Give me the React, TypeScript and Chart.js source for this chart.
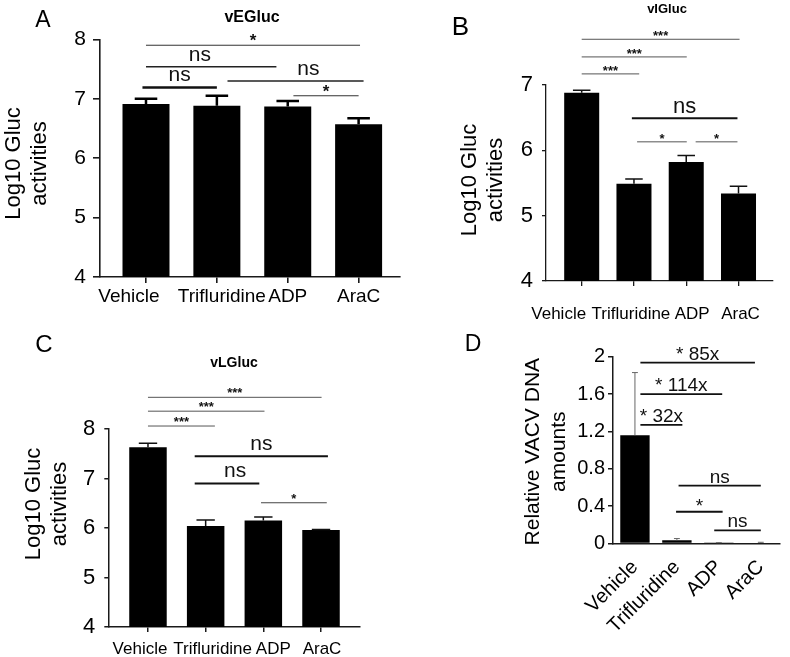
import React, { useEffect, useRef } from 'react';
import { Chart, registerables } from 'chart.js';

Chart.register(...registerables);

const W = 790;
const H = 657;
const FONT = "'Liberation Sans', Arial, Helvetica, sans-serif";
const Y_AXIS_BOX = 70; // width reserved for the y-axis ticks/labels
const X_AXIS_BOX_ROTATED = 100; // height reserved for rotated category labels

const CATEGORIES = ['Vehicle', 'Trifluridine', 'ADP', 'AraC'];

// Panel A – vEGluc
const A_MEANS = [6.91, 6.88, 6.87, 6.57];
const A_ERRORS = [0.09, 0.17, 0.09, 0.1];
const A_Y_TICKS = [4, 5, 6, 7, 8];
const A_SIGNIFICANCE = [
  { label: '*', from: 0, to: 3.02, level: 7.9 },
  { label: 'ns', from: 0, to: 1.84, level: 7.54, at: 0.76 },
  { label: 'ns', from: 1.15, to: 3.07, level: 7.3, at: 2.29 },
  { label: 'ns', from: -0.05, to: 1.0, level: 7.19 },
  { label: '*', from: 2.08, to: 3.0, level: 7.05 },
];

// Panel B – vIGluc
const B_MEANS = [6.88, 5.49, 5.82, 5.34];
const B_ERRORS = [0.04, 0.07, 0.1, 0.11];
const B_Y_TICKS = [4, 5, 6, 7];
const B_SIGNIFICANCE = [
  { label: '***', from: 0, to: 3.02, level: 7.7 },
  { label: '***', from: 0, to: 2.01, level: 7.43 },
  { label: '***', from: 0, to: 1.1, level: 7.17 },
  { label: 'ns', from: 0.96, to: 2.98, level: 6.49 },
  { label: '*', from: 1.06, to: 2.01, level: 6.13 },
  { label: '*', from: 2.18, to: 2.98, level: 6.13 },
];

// Panel C – vLGluc
const C_MEANS = [7.63, 6.04, 6.15, 5.96];
const C_ERRORS = [0.08, 0.12, 0.07, 0.01];
const C_Y_TICKS = [4, 5, 6, 7, 8];
const C_SIGNIFICANCE = [
  { label: '***', from: 0, to: 3.01, level: 8.64 },
  { label: '***', from: 0, to: 2.02, level: 8.36 },
  { label: '***', from: 0, to: 1.16, level: 8.06 },
  { label: 'ns', from: 0.81, to: 3.12, level: 7.45 },
  { label: 'ns', from: 0.81, to: 1.93, level: 6.9, at: 1.51 },
  { label: '*', from: 1.96, to: 3.1, level: 6.51 },
];

// Panel D – relative VACV DNA amounts
const D_MEANS = [1.16, 0.035, 0.006, 0.009];
const D_ERRORS = [0.67, 0.018, 0.003, 0.004];
const D_Y_TICKS = [0, 0.4, 0.8, 1.2, 1.6, 2];
const D_SIGNIFICANCE = [
  { label: '* 85x', from: 0.13, to: 2.86, level: 1.936 },
  { label: '* 114x', from: 0.13, to: 2.08, level: 1.6 },
  { label: '* 32x', from: 0.13, to: 1.13, level: 1.27 },
  { label: 'ns', from: 1.04, to: 3.0, level: 0.62 },
  { label: '*', from: 0.98, to: 2.09, level: 0.34 },
  { label: 'ns', from: 1.89, to: 3.0, level: 0.14 },
];

type Sig = { label: string; from: number; to: number; level: number; at?: number };

interface PanelCfg {
  id: string;
  means: number[];
  errors: number[];
  yTicks: number[];
  sig: Sig[];
  letter: string;
  letterSize: number;
  letterPos: [number, number];
  title?: string;
  titleSize?: number;
  titlePos?: [number, number];
  yTitle: string[];
  yTitleSize: number;
  yTitlePos: [number, number];
  yTitleLine: number;
  area: { left: number; top: number; right: number; bottom: number };
  xRange: [number, number];
  yRange: [number, number];
  barPct: number;
  tickFont: number;
  yTickLen: number;
  yTickPad: number;
  xTickLen: number;
  rotated: boolean;
  xLabelFont: number;
  xLabelBaseline?: number;
  xLabelShift?: number[];
  xTickPad?: number;
  errColor: string;
  errWidth: number;
  capRatio: number;
  bracketWidths: number[];
  bracketColors: string[];
  textSize: number;
  starSize: number;
  starBold: boolean;
  textGap: number;
  starGap: number;
  axisWidth: number;
}

const PANELS: PanelCfg[] = [
  {
    id: 'A',
    means: A_MEANS,
    errors: A_ERRORS,
    yTicks: A_Y_TICKS,
    sig: A_SIGNIFICANCE,
    letter: 'A',
    letterSize: 23,
    letterPos: [43, 21],
    title: 'vEGluc',
    titleSize: 16,
    titlePos: [252, 18],
    yTitle: ['Log10 Gluc', 'activities'],
    yTitleSize: 22,
    yTitlePos: [20, 163.5],
    yTitleLine: 26,
    area: { left: 100, top: 39.3, right: 400, bottom: 277 },
    xRange: [-0.649, 3.584],
    yRange: [4, 8],
    barPct: 0.663,
    tickFont: 21,
    yTickLen: 7,
    yTickPad: 7,
    xTickLen: 6,
    rotated: false,
    xLabelFont: 19,
    xLabelBaseline: 302,
    xLabelShift: [-17, 5, 0, 0],
    errColor: '#000',
    errWidth: 2.5,
    capRatio: 0.48,
    bracketWidths: [1, 1.5, 1.5, 2.5, 1],
    bracketColors: ['#333', '#222', '#222', '#111', '#333'],
    textSize: 21,
    starSize: 17,
    starBold: true,
    textGap: 6,
    starGap: -1,
    axisWidth: 1.6,
  },
  {
    id: 'B',
    means: B_MEANS,
    errors: B_ERRORS,
    yTicks: B_Y_TICKS,
    sig: B_SIGNIFICANCE,
    letter: 'B',
    letterSize: 26,
    letterPos: [460.5, 27.5],
    title: 'vIGluc',
    titleSize: 13,
    titlePos: [667, 9],
    yTitle: ['Log10 Gluc', 'activities'],
    yTitleSize: 22,
    yTitlePos: [476, 180],
    yTitleLine: 26,
    area: { left: 546, top: 85, right: 773, bottom: 281 },
    xRange: [-0.683, 3.66],
    yRange: [4, 7],
    barPct: 0.67,
    tickFont: 22,
    yTickLen: 4,
    yTickPad: 9,
    xTickLen: 5,
    rotated: false,
    xLabelFont: 17,
    xLabelBaseline: 319,
    xLabelShift: [-23, -3, 6, 2],
    errColor: '#111',
    errWidth: 1.5,
    capRatio: 0.5,
    bracketWidths: [1, 1, 1, 2, 1, 1],
    bracketColors: ['#555', '#555', '#555', '#111', '#555', '#555'],
    textSize: 22,
    starSize: 13,
    starBold: true,
    textGap: 5,
    starGap: -1,
    axisWidth: 1.3,
  },
  {
    id: 'C',
    means: C_MEANS,
    errors: C_ERRORS,
    yTicks: C_Y_TICKS,
    sig: C_SIGNIFICANCE,
    letter: 'C',
    letterSize: 24,
    letterPos: [44, 345],
    title: 'vLGluc',
    titleSize: 14,
    titlePos: [234, 363],
    yTitle: ['Log10 Gluc', 'activities'],
    yTitleSize: 22,
    yTitlePos: [40, 504],
    yTitleLine: 26,
    area: { left: 108.3, top: 429, right: 360, bottom: 627 },
    xRange: [-0.688, 3.676],
    yRange: [4, 8],
    barPct: 0.65,
    tickFont: 22,
    yTickLen: 4,
    yTickPad: 9,
    xTickLen: 5,
    rotated: false,
    xLabelFont: 17,
    xLabelBaseline: 654,
    xLabelShift: [-8, 7, 10, 1],
    errColor: '#111',
    errWidth: 1.5,
    capRatio: 0.49,
    bracketWidths: [1, 1, 1, 2, 2, 1],
    bracketColors: ['#555', '#555', '#555', '#111', '#111', '#444'],
    textSize: 21,
    starSize: 13,
    starBold: true,
    textGap: 6,
    starGap: 0,
    axisWidth: 1.5,
  },
  {
    id: 'D',
    means: D_MEANS,
    errors: D_ERRORS,
    yTicks: D_Y_TICKS,
    sig: D_SIGNIFICANCE,
    letter: 'D',
    letterSize: 23,
    letterPos: [473, 345],
    yTitle: ['Relative VACV DNA', 'amounts'],
    yTitleSize: 21,
    yTitlePos: [539, 451.7],
    yTitleLine: 26,
    area: { left: 613, top: 356.7, right: 788, bottom: 543.5 },
    xRange: [-0.523, 3.4545],
    yRange: [0, 2],
    barPct: 0.7,
    tickFont: 20,
    yTickLen: 5,
    yTickPad: 3,
    xTickLen: 0,
    rotated: true,
    xLabelFont: 20,
    xTickPad: 12,
    errColor: '#666',
    errWidth: 1,
    capRatio: 0.2,
    bracketWidths: [1.8, 1.8, 1.8, 1.8, 1.8, 1.8],
    bracketColors: ['#111', '#111', '#111', '#111', '#111', '#111'],
    textSize: 19,
    starSize: 19,
    starBold: false,
    textGap: 3,
    starGap: 0,
    axisWidth: 1.5,
  },
];

const AXIS_COLOR = '#1a1a1a';

function makeDecor(p: PanelCfg) {
  return {
    id: 'decor' + p.id,
    afterDraw(chart: any) {
      const ctx: CanvasRenderingContext2D = chart.ctx;
      const xs = chart.scales.x;
      const ys = chart.scales.y;
      const meta = chart.getDatasetMeta(0);
      ctx.save();

      // error bars
      p.means.forEach((m, i) => {
        const x = xs.getPixelForValue(i);
        const yTop = ys.getPixelForValue(m);
        const yErr = ys.getPixelForValue(m + p.errors[i]);
        const bw = meta.data[i] ? meta.data[i].width : 30;
        const cap = (bw * p.capRatio) / 2;
        ctx.strokeStyle = p.errColor;
        ctx.lineWidth = p.errWidth;
        ctx.beginPath();
        ctx.moveTo(x, yTop);
        ctx.lineTo(x, yErr);
        ctx.moveTo(x - cap, yErr);
        ctx.lineTo(x + cap, yErr);
        ctx.stroke();
      });

      // significance brackets
      p.sig.forEach((s, k) => {
        const x1 = xs.getPixelForValue(s.from);
        const x2 = xs.getPixelForValue(s.to);
        const y = ys.getPixelForValue(s.level);
        ctx.strokeStyle = p.bracketColors[k];
        ctx.lineWidth = p.bracketWidths[k];
        ctx.beginPath();
        ctx.moveTo(x1, y);
        ctx.lineTo(x2, y);
        ctx.stroke();
        const starOnly = /^\*+$/.test(s.label);
        ctx.font = starOnly
          ? `${p.starBold ? 'bold ' : ''}${p.starSize}px ${FONT}`
          : `${p.textSize}px ${FONT}`;
        ctx.fillStyle = '#111';
        ctx.textAlign = 'center';
        ctx.textBaseline = 'alphabetic';
        const tx = s.at !== undefined ? xs.getPixelForValue(s.at) : (x1 + x2) / 2;
        ctx.fillText(s.label, tx, y - (starOnly ? p.starGap : p.textGap));
      });

      // category labels (horizontal panels)
      if (!p.rotated && p.xLabelShift && p.xLabelBaseline !== undefined) {
        ctx.font = `${p.xLabelFont}px ${FONT}`;
        ctx.fillStyle = '#000';
        ctx.textAlign = 'center';
        ctx.textBaseline = 'alphabetic';
        CATEGORIES.forEach((c, i) => {
          ctx.fillText(c, xs.getPixelForValue(i) + p.xLabelShift![i], p.xLabelBaseline!);
        });
      }

      // panel letter
      ctx.font = `${p.letterSize}px ${FONT}`;
      ctx.fillStyle = '#000';
      ctx.textAlign = 'center';
      ctx.textBaseline = 'middle';
      ctx.fillText(p.letter, p.letterPos[0], p.letterPos[1]);

      // title
      if (p.title && p.titlePos) {
        ctx.font = `bold ${p.titleSize}px ${FONT}`;
        ctx.fillText(p.title, p.titlePos[0], p.titlePos[1]);
      }

      // y-axis title (rotated, two lines)
      ctx.save();
      ctx.translate(p.yTitlePos[0], p.yTitlePos[1]);
      ctx.rotate(-Math.PI / 2);
      ctx.font = `${p.yTitleSize}px ${FONT}`;
      ctx.textAlign = 'center';
      ctx.textBaseline = 'alphabetic';
      p.yTitle.forEach((line, i) => ctx.fillText(line, 0, i * p.yTitleLine));
      ctx.restore();

      ctx.restore();
    },
  };
}

function buildConfig(p: PanelCfg): any {
  const xBox = p.rotated ? X_AXIS_BOX_ROTATED : 0;
  return {
    type: 'bar',
    data: {
      datasets: [
        {
          data: p.means.map((m, i) => ({ x: i, y: m })),
          backgroundColor: '#000',
          borderWidth: 0,
          barPercentage: p.barPct,
          categoryPercentage: 1,
        },
      ],
    },
    options: {
      responsive: false,
      animation: false,
      events: [],
      layout: {
        padding: {
          left: p.area.left - Y_AXIS_BOX,
          top: p.area.top,
          right: W - p.area.right,
          bottom: H - p.area.bottom - xBox,
        },
      },
      plugins: {
        legend: { display: false },
        tooltip: { enabled: false },
        title: { display: false },
      },
      scales: {
        x: {
          type: 'linear',
          min: p.xRange[0],
          max: p.xRange[1],
          offset: false,
          afterBuildTicks: (s: any) => {
            s.ticks = CATEGORIES.map((_, i) => ({ value: i }));
          },
          afterFit: (s: any) => {
            s.height = xBox;
          },
          grid: {
            display: true,
            drawOnChartArea: false,
            drawTicks: p.xTickLen > 0,
            tickLength: p.xTickLen,
            offset: false,
            color: AXIS_COLOR,
            lineWidth: p.axisWidth,
          },
          border: { display: true, color: AXIS_COLOR, width: p.axisWidth },
          ticks: p.rotated
            ? {
                display: true,
                autoSkip: false,
                minRotation: 45,
                maxRotation: 45,
                padding: p.xTickPad,
                color: '#000',
                font: { family: FONT, size: p.xLabelFont },
                callback: (v: number) => CATEGORIES[v],
              }
            : { display: false },
        },
        y: {
          type: 'linear',
          min: p.yRange[0],
          max: p.yRange[1],
          beginAtZero: false,
          afterBuildTicks: (s: any) => {
            s.ticks = p.yTicks.map((v) => ({ value: v }));
          },
          afterFit: (s: any) => {
            s.width = Y_AXIS_BOX;
          },
          grid: {
            display: true,
            drawOnChartArea: false,
            drawTicks: true,
            tickLength: p.yTickLen,
            color: AXIS_COLOR,
            lineWidth: p.axisWidth,
          },
          border: { display: true, color: AXIS_COLOR, width: p.axisWidth },
          ticks: {
            padding: p.yTickPad,
            color: '#000',
            font: { family: FONT, size: p.tickFont },
            callback: (v: number) => String(v),
          },
        },
      },
    },
    plugins: [makeDecor(p)],
  };
}

function Panel({ p }: { p: PanelCfg }) {
  const ref = useRef<HTMLCanvasElement>(null);
  useEffect(() => {
    if (!ref.current) return;
    const chart = new Chart(ref.current, buildConfig(p));
    return () => chart.destroy();
  }, [p]);
  return (
    <canvas
      ref={ref}
      width={W}
      height={H}
      style={{ position: 'absolute', left: 0, top: 0, width: W, height: H }}
    />
  );
}

export default function App() {
  return (
    <div
      style={{
        position: 'absolute',
        left: 0,
        top: 0,
        width: W,
        height: H,
        background: '#fff',
        overflow: 'hidden',
      }}
    >
      {PANELS.map((p) => (
        <Panel key={p.id} p={p} />
      ))}
    </div>
  );
}
